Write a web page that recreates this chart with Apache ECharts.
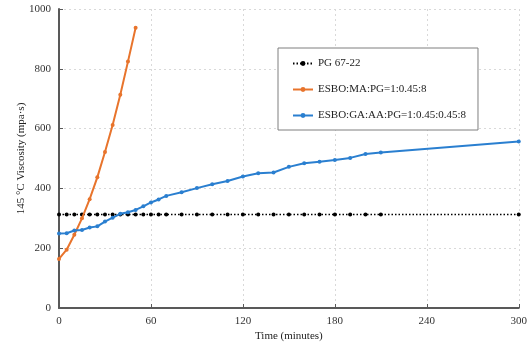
<!DOCTYPE html>
<html>
<head>
<meta charset="utf-8">
<script src="https://cdn.jsdelivr.net/npm/echarts@6/dist/echarts.min.js"></script>
<style>
  html, body { margin: 0; padding: 0; background: #fff; }
  #chart { width: 530px; height: 347px; }
</style>
</head>
<body>
<div id="chart"></div>
<script>
// series names
const seriesNames = ["PG 67-22", "ESBO:MA:PG=1:0.45:8", "ESBO:GA:AA:PG=1:0.45:0.45:8"];

// PG 67-22 (constant reference)
const pgTimes = [0, 5, 10, 15, 20, 25, 30, 35, 40, 45, 50, 55, 60, 65, 70, 80, 90, 100, 110, 120, 130, 140, 150, 160, 170, 180, 190, 200, 210, 300];
const pgValues = [313, 313, 313, 313, 313, 313, 313, 313, 313, 313, 313, 313, 313, 313, 313, 313, 313, 313, 313, 313, 313, 313, 313, 313, 313, 313, 313, 313, 313, 313];

// ESBO:MA:PG
const maTimes = [0, 5, 10, 15, 20, 25, 30, 35, 40, 45, 50];
const maValues = [164, 195, 245, 300, 364, 437, 522, 612, 713, 824, 937];

// ESBO:GA:AA:PG
const gaTimes = [0, 5, 10, 15, 20, 25, 30, 35, 40, 45, 50, 55, 60, 65, 70, 80, 90, 100, 110, 120, 130, 140, 150, 160, 170, 180, 190, 200, 210, 300];
const gaValues = [249, 250, 259, 261, 269, 273, 289, 302, 315, 320, 328, 340, 353, 363, 375, 387, 401, 414, 425, 440, 451, 453, 472, 484, 489, 495, 502, 515, 520, 557];

const xTicks = [0, 60, 120, 180, 240, 300];
const yTicks = [0, 200, 400, 600, 800, 1000];

const zip = (xs, ys) => xs.map((x, i) => [x, ys[i]]);

const chart = echarts.init(document.getElementById("chart"));
const font = "'Liberation Serif', 'Times New Roman', serif";
const axisGray = "#595959";

const option = {
    animation: false,
    textStyle: { fontFamily: font },
    grid: { left: 59, right: 10, top: 9, bottom: 38 },
    legend: {
        orient: "vertical",
        left: 278,
        top: 48,
        padding: [10, 12, 9, 14],
        itemGap: 15,
        itemWidth: 20,
        itemHeight: 6,
        borderColor: "#7f7f7f",
        borderWidth: 1,
        backgroundColor: "#fff",
        textStyle: { fontFamily: font, fontSize: 11, lineHeight: 11, color: "#222" },
        data: seriesNames,
    },
    xAxis: {
        type: "value",
        min: xTicks[0],
        max: xTicks[xTicks.length - 1],
        interval: xTicks[1] - xTicks[0],
        name: "Time (minutes)",
        nameLocation: "middle",
        nameGap: 23,
        nameMoveOverlap: false,
        nameTextStyle: { fontFamily: font, fontSize: 11, color: "#222" },
        axisLine: { show: true, lineStyle: { color: axisGray, width: 2 } },
        axisTick: { show: true, inside: true, length: 4, lineStyle: { color: axisGray } },
        axisLabel: { fontFamily: font, fontSize: 11, color: "#333", margin: 8 },
        splitLine: { show: true, lineStyle: { color: "#d9d9d9", type: [2, 3] } },
    },
    yAxis: {
        type: "value",
        min: yTicks[0],
        max: yTicks[yTicks.length - 1],
        interval: yTicks[1] - yTicks[0],
        name: "145 °C Viscosity (mpa·s)",
        nameLocation: "middle",
        nameGap: 32,
        nameMoveOverlap: false,
        nameTextStyle: { fontFamily: font, fontSize: 11, color: "#222" },
        axisLine: { show: true, lineStyle: { color: axisGray, width: 2 } },
        axisTick: { show: true, inside: true, length: 4, lineStyle: { color: axisGray } },
        axisLabel: { fontFamily: font, fontSize: 11, color: "#333", margin: 8, formatter: (v) => String(v) },
        splitLine: { show: true, lineStyle: { color: "#d9d9d9", type: [2, 3] } },
    },
    series: [
        {
            name: seriesNames[0],
            type: "line",
            data: zip(pgTimes, pgValues),
            symbol: "circle",
            symbolSize: 4,
            itemStyle: { color: "#000" },
            lineStyle: { color: "#000", width: 1.5, type: [1.5, 2] },
            z: 3,
        },
        {
            name: seriesNames[1],
            type: "line",
            data: zip(maTimes, maValues),
            symbol: "circle",
            symbolSize: 4,
            itemStyle: { color: "#e8742c" },
            lineStyle: { color: "#e8742c", width: 2 },
            z: 4,
        },
        {
            name: seriesNames[2],
            type: "line",
            data: zip(gaTimes, gaValues),
            symbol: "circle",
            symbolSize: 4,
            itemStyle: { color: "#2a7fd0" },
            lineStyle: { color: "#2a7fd0", width: 2 },
            z: 4,
        },
    ],
};

chart.setOption(option);
</script>
</body>
</html>
